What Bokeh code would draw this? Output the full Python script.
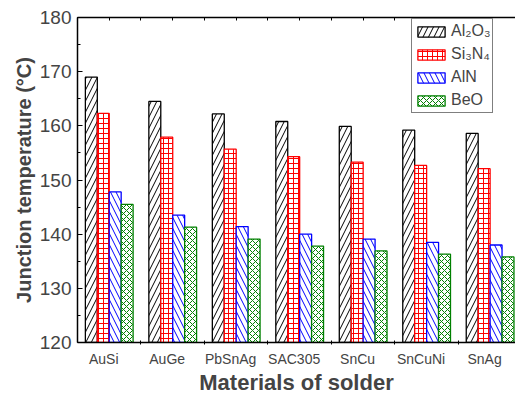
from bokeh.plotting import figure
from bokeh.models import (Range1d, LinearAxis, FixedTicker, SingleIntervalTicker,
                          Legend, LegendItem)
from bokeh.embed import file_html
from bokeh.resources import INLINE

categories = ["AuSi", "AuGe", "PbSnAg", "SAC305", "SnCu", "SnCuNi", "SnAg"]
al2o3 = [169.0, 164.5, 162.2, 160.8, 159.9, 159.2, 158.6]
si3n4 = [162.3, 157.9, 155.7, 154.3, 153.3, 152.7, 152.1]
aln = [147.8, 143.5, 141.4, 140.0, 139.1, 138.5, 138.0]
beo = [145.5, 141.3, 139.1, 137.8, 136.9, 136.3, 135.8]
series_names = ["Al\u2082O\u2083", "Si\u2083N\u2084", "AlN", "BeO"]

FONT = "Liberation Sans"
n = len(categories)
idx = list(range(n))

p = figure(width=515, height=397, output_backend="svg", toolbar_location=None,
           x_range=Range1d(-0.5, 6.4), y_range=Range1d(120, 180),
           min_border_left=77, min_border_top=17, min_border_bottom=54,
           min_border_right=0, x_axis_type=None, y_axis_type=None)
p.outline_line_color = None
p.grid.visible = False
p.background_fill_color = "white"
p.border_fill_color = "white"

bw = 0.188
series = [
    (al2o3, "black", "/", 11),
    (si3n4, "red", "+", 5),
    (aln, "blue", "\\", 11),
    (beo, "green", "x", 6),
]
items = []
for k, (vals, col, hp, hs) in enumerate(series):
    off = (k - 1.5) * bw
    r = p.vbar(x=[i + off for i in idx], top=vals, bottom=120, width=bw,
               fill_color="white", line_color=col, line_width=1.3,
               hatch_pattern=hp, hatch_color=col, hatch_scale=hs, hatch_weight=1)
    items.append(LegendItem(label=series_names[k], renderers=[r]))

# left axis
yax = LinearAxis(ticker=SingleIntervalTicker(interval=10, num_minor_ticks=2))
yax.axis_label = "Junction temperature (\u00b0C)"
yax.axis_label_text_font = FONT
yax.axis_label_text_font_style = "bold"
yax.axis_label_text_font_size = "20px"
yax.axis_label_standoff = 2
yax.major_label_text_font = FONT
yax.major_label_text_font_size = "19px"
yax.major_label_standoff = 6
yax.major_tick_in = 5
yax.major_tick_out = 0
yax.minor_tick_in = 3
yax.minor_tick_out = 0
yax.axis_line_width = 1.5
yax.major_tick_line_width = 1.2
p.add_layout(yax, "left")

# bottom axis: labels at categories, small ticks between groups
label_pos = [i - 0.087 for i in idx]
xax = LinearAxis(ticker=FixedTicker(ticks=label_pos,
                                    minor_ticks=[i + 0.5 for i in idx]))
xax.major_label_overrides = {pos: c for pos, c in zip(label_pos, categories)}
xax.major_label_text_font = FONT
xax.major_label_text_font_size = "14px"
xax.major_label_standoff = 6
xax.major_tick_in = 0
xax.major_tick_out = 0
xax.minor_tick_in = 2
xax.minor_tick_out = 2
xax.axis_line_width = 1.5
xax.axis_label = "Materials of solder"
xax.axis_label_text_font = FONT
xax.axis_label_text_font_style = "bold"
xax.axis_label_text_font_size = "22px"
xax.axis_label_standoff = 0
p.add_layout(xax, "below")

# top axis: ticks only
top_ticks = [-0.5] + [i * 0.5 for i in range(0, 2 * n)]
tax = LinearAxis(ticker=FixedTicker(ticks=top_ticks))
tax.major_label_overrides = {t: "" for t in top_ticks}
tax.major_label_standoff = 0
tax.major_tick_in = 3
tax.major_tick_out = 0
tax.minor_tick_in = 0
tax.minor_tick_out = 0
tax.axis_line_width = 1.5
p.add_layout(tax, "above")

leg = Legend(items=items, location=(334, 229))
leg.label_text_font = FONT
leg.label_text_font_size = "16px"
leg.glyph_width = 34
leg.glyph_height = 13
leg.label_height = 20
leg.spacing = 3
leg.padding = 2
leg.margin = 0
leg.label_standoff = 3
leg.border_line_color = "black"
leg.border_line_width = 1.2
leg.background_fill_alpha = 1
p.add_layout(leg, "center")

open("out.html", "w").write(file_html(p, INLINE))
